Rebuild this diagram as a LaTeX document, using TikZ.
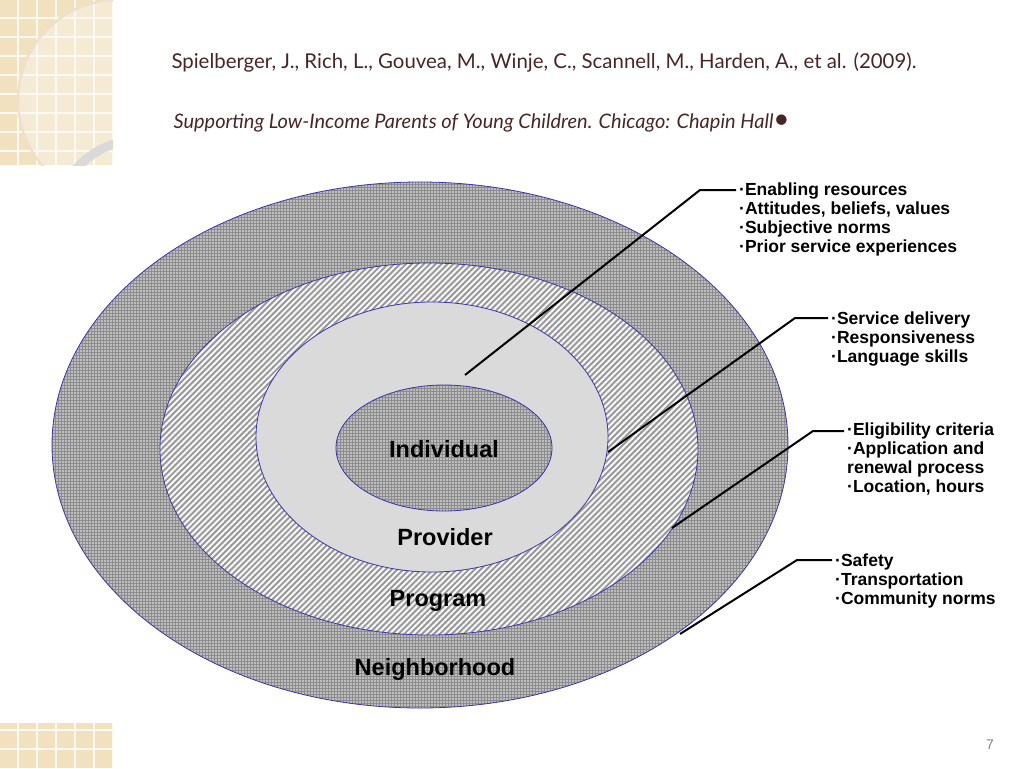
\documentclass[tikz,border=0pt]{standalone}
\usepackage{fontspec}
\setmainfont{Liberation Sans}
\newfontfamily\titlefont{Lato}
\usetikzlibrary{positioning,patterns.meta}
\definecolor{ringblue}{RGB}{55,55,175}
\definecolor{dotgray}{RGB}{140,140,140}
\definecolor{stripegray}{RGB}{150,150,150}
\definecolor{provgray}{RGB}{218,218,218}
\definecolor{tilebeige}{RGB}{241,225,190}
\definecolor{titlebrown}{RGB}{72,38,38}

\begin{document}
\begin{tikzpicture}[x=1pt,y=-1pt,
  ringdots/.style={preaction={fill=dotgray},pattern={Dots[distance=3pt,radius=0.8pt]},pattern color=white!90!gray,draw=ringblue,line width=0.8pt},
  ringlines/.style={preaction={fill=stripegray},pattern={Lines[angle=45,distance=4.2pt,line width=2.1pt]},pattern color=white!92!gray,draw=ringblue,line width=0.8pt},
  ringlabel/.style={font=\bfseries\fontsize{23.5}{26}\selectfont},
  itemlist/.style={anchor=north west,align=left,inner sep=0pt,font=\bfseries\fontsize{17.5}{19}\selectfont},
  leader/.style={line width=2pt,line join=miter}]
  \useasboundingbox (0,0) rectangle (1024,768);
  % corner tiles
  \begin{scope}
    \clip (0,0) rectangle (113,165);
    \fill[tilebeige] (0,0) rectangle (113,165);
    \fill[white,opacity=0.35] (118,100) circle (100);
    \foreach \x in {18,37,...,113} \draw[white!80!tilebeige,line width=1.2pt] (\x,0) -- (\x,165);
    \foreach \y in {18,37,...,165} \draw[white!80!tilebeige,line width=1.2pt] (0,\y) -- (113,\y);
    \draw[white!75!brown,line width=2.5pt] (118,100) circle (100);
    \draw[gray!30,line width=9pt] (140,225) circle (85);
  \end{scope}
  \begin{scope}
    \clip (0,723) rectangle (113,768);
    \fill[tilebeige] (0,723) rectangle (113,768);
    \foreach \x in {18,37,...,113} \draw[white!80!tilebeige,line width=1.2pt] (\x,723) -- (\x,768);
    \foreach \y in {730,749} \draw[white!80!tilebeige,line width=1.2pt] (0,\y) -- (113,\y);
  \end{scope}
  % title
  \node[anchor=west,text=titlebrown,font=\titlefont\fontsize{20.4}{24}\selectfont] (ref) at (168,62)
    {Spielberger, J., Rich, L., Gouvea, M., Winje, C., Scannell, M., Harden, A., et al. (2009).};
  \node[anchor=west,text=titlebrown,font=\titlefont\itshape\fontsize{20}{24}\selectfont] (book) at (170,123)
    {Supporting Low-Income Parents of Young Children. Chicago: Chapin Hall{\upshape\fontsize{28}{28}\selectfont•}};
  % rings
  \path[ringdots] (420,445) ellipse [x radius=368,y radius=263];
  \path[ringlines] (429,449) ellipse [x radius=269,y radius=186];
  \path[fill=provgray,draw=ringblue,line width=0.8pt] (432,437) ellipse [x radius=176,y radius=135];
  \path[ringdots] (444,448) ellipse [x radius=108,y radius=63];
  \node[ringlabel] (individual) at (444,449) {Individual};
  \node[ringlabel] (provider) at (445,537) {Provider};
  \node[ringlabel] (program) at (438,601) {Program};
  \node[ringlabel] (neighborhood) at (435,669) {Neighborhood};
  % factor lists
  \node[itemlist] (list1) at (739,183) {·Enabling resources\\·Attitudes, beliefs, values\\·Subjective norms\\·Prior service experiences};
  \node[itemlist] (list2) at (831,312) {·Service delivery\\·Responsiveness\\·Language skills};
  \node[itemlist] (list3) at (847,423) {·Eligibility criteria\\·Application and\\renewal process\\·Location, hours};
  \node[itemlist] (list4) at (835,554) {·Safety\\·Transportation\\·Community norms};
  % leaders
  \coordinate (p1) at (465,375); \coordinate (c1) at (700,190);
  \coordinate (p2) at (608,452); \coordinate (c2) at (795,318);
  \coordinate (p3) at (672,528); \coordinate (c3) at (813,431);
  \coordinate (p4) at (680,634); \coordinate (c4) at (797,560);
  \draw[leader] (p1) -- (c1) -- ([xshift=-3pt]c1 -| list1.west);
  \draw[leader] (p2) -- (c2) -- ([xshift=-3pt]c2 -| list2.west);
  \draw[leader] (p3) -- (c3) -- ([xshift=-3pt]c3 -| list3.west);
  \draw[leader] (p4) -- (c4) -- ([xshift=-3pt]c4 -| list4.west);
  \node[text=gray,font=\fontsize{14}{16}\selectfont] (page) at (990,745) {7};
\end{tikzpicture}
\end{document}
